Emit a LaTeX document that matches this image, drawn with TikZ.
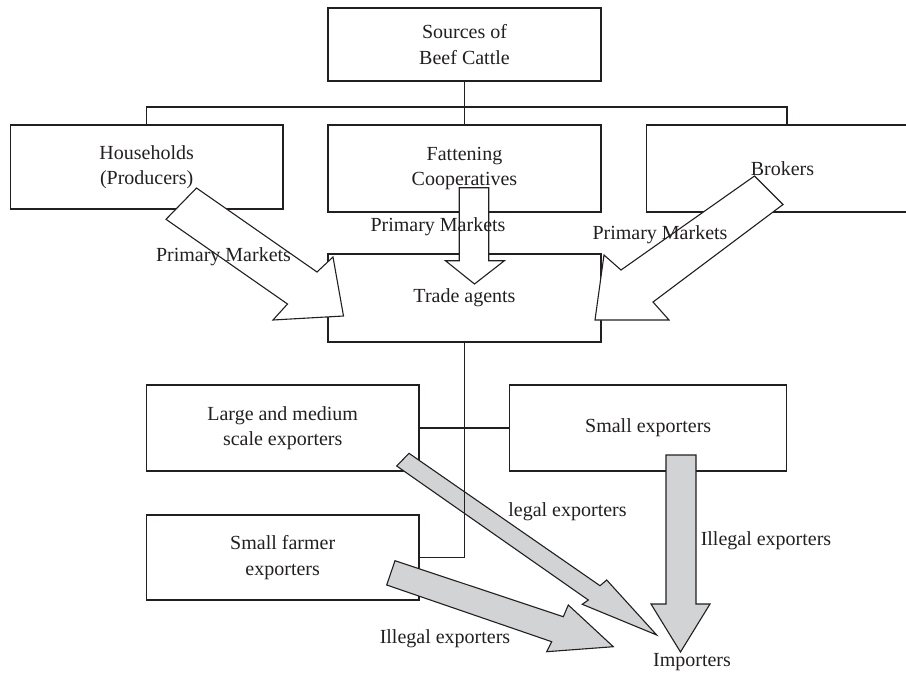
\documentclass[tikz,border=0pt]{standalone}
\usepackage{fontspec}
\setmainfont{Liberation Serif}
\usepackage{tikz}
\definecolor{flowgray}{RGB}{209,211,212}
\definecolor{inkgray}{RGB}{35,31,32}

\tikzset{
  box/.style={draw=inkgray, line width=1.1pt, align=center, inner sep=0pt},
  whitearrow/.style={draw=inkgray, line width=1.1pt, fill=white},
  grayarrow/.style={draw=inkgray, line width=1.1pt, fill=flowgray},
  link/.style={draw=inkgray, line width=1.1pt},
  lbl/.style={inner sep=0pt}
}

\begin{document}
\begin{tikzpicture}[x=1pt, y=-1pt, font=\fontsize{20}{25.5}\selectfont, text=inkgray]
  \useasboundingbox (0,0) rectangle (906,673);
  \clip (0,0) rectangle (906,673);

  % boxes
  \node[box, minimum width=273pt, minimum height=73pt] (src) at (464.5,44.5) {Sources of\\Beef Cattle};
  \node[box, minimum width=272.6pt, minimum height=84pt] (hh) at (146.7,167) {Households\\(Producers)};
  \node[box, minimum width=273pt, minimum height=87pt] (fat) at (464.5,168.5) {Fattening\\Cooperatives};
  \node[box, minimum width=272pt, minimum height=87pt] (brk) at (782.5,168.5) {Brokers};
  \node[box, minimum width=273pt, minimum height=88pt] (ta) at (464.5,298) {Trade agents};
  \node[box, minimum width=272.6pt, minimum height=86pt] (lm) at (282.7,428) {Large and medium\\scale exporters};
  \node[box, minimum width=277pt, minimum height=86pt] (se) at (648.2,428) {Small exporters};
  \node[box, minimum width=272.6pt, minimum height=85pt] (sf) at (282.7,557.5) {Small farmer\\exporters};

  % tree above
  \coordinate (bus) at (464.5,107);
  \coordinate (busR) at (787,107);
  \draw[link] (src.south) -- (bus) -- (fat.north);
  \draw[link] (hh.north) |- (busR) -- (busR |- brk.north);

  % primary market arrows
  \filldraw[whitearrow] (196.5,188) -- (166,219.3) -- (287.5,304) -- (273,320) -- (343.5,316) -- (333,257) -- (317,272) -- cycle;
  \filldraw[whitearrow] (459.2,187.7) -- (488.7,187.7) -- (488.7,260.7) -- (504.4,260.7) -- (474.5,284) -- (445.4,260.7) -- (459.2,260.7) -- cycle;
  \filldraw[whitearrow] (754.5,176) -- (783,204.5) -- (653,302) -- (669,320) -- (595,320) -- (604,255) -- (621,270) -- cycle;

  % export arrows
  \filldraw[grayarrow] (409,453.3) -- (600,585.7) -- (606.7,580) -- (656.7,635) -- (582.3,604.3) -- (588.3,600) -- (396.7,466) -- cycle;
  \filldraw[grayarrow] (395,560.7) -- (563.3,616.7) -- (568.3,605) -- (613.3,646.7) -- (546.7,651.7) -- (551.7,641.7) -- (386.7,585) -- cycle;
  \filldraw[grayarrow] (666,455) -- (696,455) -- (696,604) -- (710,604) -- (680.5,652) -- (651,604) -- (666,604) -- cycle;

  % links below
  \draw[link] (ta.south) |- (sf.east);
  \draw[link] (lm.east) -- (se.west);

  % labels
  \node[lbl] (pmL) at (223.5,256.7) {Primary Markets};
  \node[lbl] (pmM) at (438,226.7) {Primary Markets};
  \node[lbl] (pmR) at (660,235) {Primary Markets};
  \node[lbl] (legal) at (567.5,511.7) {legal exporters};
  \node[lbl] (illR) at (766,540.7) {Illegal exporters};
  \node[lbl] (illB) at (445,638.3) {Illegal exporters};
  \node[lbl] (imp) at (692,661.7) {Importers};
\end{tikzpicture}
\end{document}
